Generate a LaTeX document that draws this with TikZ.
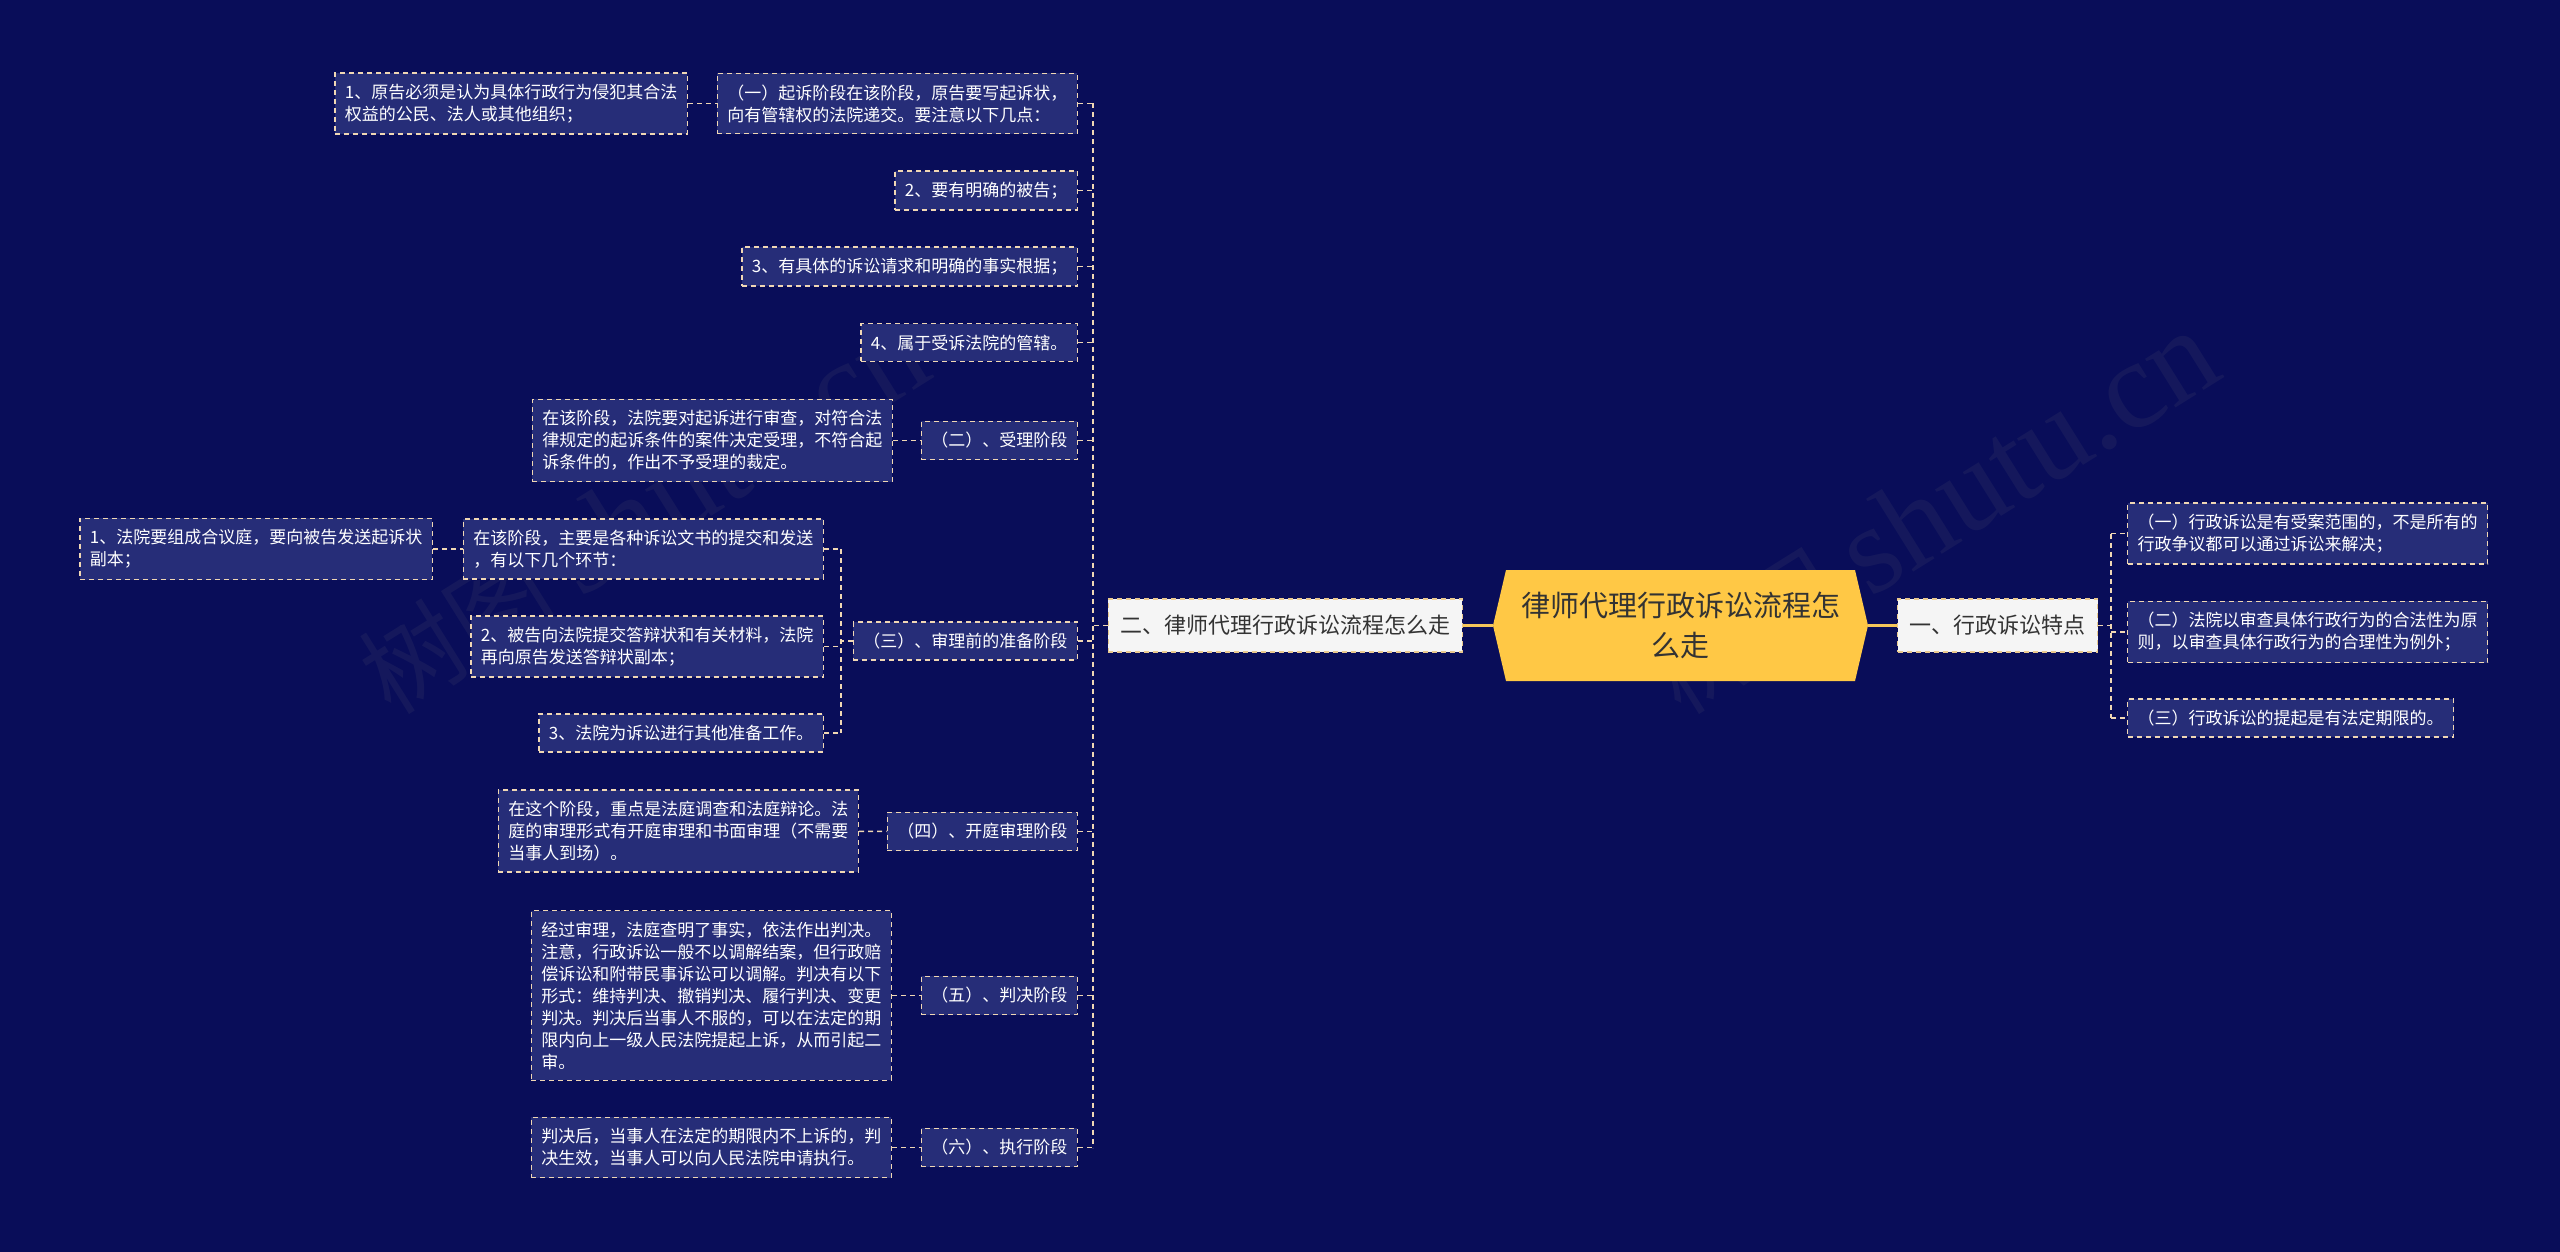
\documentclass[tikz,border=0pt]{standalone}
\usepackage{fontspec}
\newfontfamily\cjk{Noto Sans CJK SC}
\newfontfamily\wmserif{Liberation Serif}
\definecolor{navy}{HTML}{090D59}
\definecolor{boxfill}{HTML}{262D78}
\definecolor{dashcol}{HTML}{F0D7B4}
\definecolor{rootfill}{HTML}{FFC845}
\definecolor{rootline}{HTML}{F5C65A}
\definecolor{lvlfill}{HTML}{F5F5F5}
\definecolor{lvlline}{HTML}{E9C98F}
\definecolor{darktext}{HTML}{333333}
\begin{document}
\begin{tikzpicture}[x=1pt,y=-1pt,
  leafbox/.style={draw=dashcol,fill=boxfill,text=white,line width=1.3pt,dash pattern=on 5pt off 4pt,
    font=\cjk\fontsize{17}{22}\selectfont,align=left,inner xsep=10pt,inner ysep=11pt},
  topic/.style={draw=lvlline,fill=lvlfill,text=darktext,line width=1.3pt,dash pattern=on 5pt off 4pt,
    font=\cjk\fontsize{22}{28}\selectfont,inner xsep=12pt,minimum height=53pt},
  rootbox/.style={minimum width=375pt,minimum height=111pt,align=center,text=darktext,
    font=\cjk\fontsize{29}{40}\selectfont,
    path picture={\fill[rootfill] ([xshift=13pt]path picture bounding box.north west) -- (path picture bounding box.west)
      -- ([xshift=13pt]path picture bounding box.south west) -- ([xshift=-13pt]path picture bounding box.south east)
      -- (path picture bounding box.east) -- ([xshift=-13pt]path picture bounding box.north east) -- cycle;}},
  link/.style={draw=dashcol,line width=1.6pt,dash pattern=on 5pt off 4pt},
  rootlink/.style={draw=rootline,line width=3pt},
  wm/.style={text=gray,opacity=0.1,rotate=32}]
  \useasboundingbox (0,0) rectangle (2560,1252);
  \fill[navy] (0,0) rectangle (2560,1252);
  % watermark
  \node[wm] (wmL) at (643,513) {\cjk\fontsize{100}{100}\selectfont 树图 \wmserif\fontsize{125}{125}\selectfont shutu.cn};
  \node[wm] (wmR) at (1933,513) {\cjk\fontsize{100}{100}\selectfont 树图 \wmserif\fontsize{125}{125}\selectfont shutu.cn};
  % centre and first level
  \node[rootbox] (root) at (1680.5,625.5) {律师代理行政诉讼流程怎\\么走};
  \node[topic,anchor=east] (two) at (1463,625.5) {二、律师代理行政诉讼流程怎么走};
  \node[topic,anchor=west] (one) at (1897,625.5) {一、行政诉讼特点};
  \draw[rootlink] (two.east) -- (root.west);
  \draw[rootlink] (root.east) -- (one.west);
  % left branch
  \node[leafbox,anchor=east] (A1) at (1078,103.5) {（一）起诉阶段在该阶段，原告要写起诉状，\\向有管辖权的法院递交。要注意以下几点：};
  \node[leafbox,anchor=east] (A1c) at (688,103.5) {1、原告必须是认为具体行政行为侵犯其合法\\权益的公民、法人或其他组织；};
  \node[leafbox,anchor=east] (A2) at (1078,190.5) {2、要有明确的被告；};
  \node[leafbox,anchor=east] (A3) at (1078,266.5) {3、有具体的诉讼请求和明确的事实根据；};
  \node[leafbox,anchor=east] (A4) at (1078,342.5) {4、属于受诉法院的管辖。};
  \node[leafbox,anchor=east] (B) at (1078,440.5) {（二）、受理阶段};
  \node[leafbox,anchor=east] (Bc) at (893,440.5) {在该阶段，法院要对起诉进行审查，对符合法\\律规定的起诉条件的案件决定受理，不符合起\\诉条件的，作出不予受理的裁定。};
  \node[leafbox,anchor=east] (C) at (1078,641) {（三）、审理前的准备阶段};
  \node[leafbox,anchor=east] (C1) at (824,549) {在该阶段，主要是各种诉讼文书的提交和发送\\，有以下几个环节：};
  \node[leafbox,anchor=east] (C1c) at (433,549) {1、法院要组成合议庭，要向被告发送起诉状\\副本；};
  \node[leafbox,anchor=east] (C2) at (824,646.5) {2、被告向法院提交答辩状和有关材料，法院\\再向原告发送答辩状副本；};
  \node[leafbox,anchor=east] (C3) at (824,733) {3、法院为诉讼进行其他准备工作。};
  \node[leafbox,anchor=east] (D) at (1078,831.5) {（四）、开庭审理阶段};
  \node[leafbox,anchor=east] (Dc) at (859,831) {在这个阶段，重点是法庭调查和法庭辩论。法\\庭的审理形式有开庭审理和书面审理（不需要\\当事人到场）。};
  \node[leafbox,anchor=east] (E) at (1078,995.5) {（五）、判决阶段};
  \node[leafbox,anchor=east] (Ec) at (892,995.5) {经过审理，法庭查明了事实，依法作出判决。\\注意，行政诉讼一般不以调解结案，但行政赔\\偿诉讼和附带民事诉讼可以调解。判决有以下\\形式：维持判决、撤销判决、履行判决、变更\\判决。判决后当事人不服的，可以在法定的期\\限内向上一级人民法院提起上诉，从而引起二\\审。};
  \node[leafbox,anchor=east] (F) at (1078,1147.5) {（六）、执行阶段};
  \node[leafbox,anchor=east] (Fc) at (892,1147.5) {判决后，当事人在法定的期限内不上诉的，判\\决生效，当事人可以向人民法院申请执行。};
  \coordinate (busL) at (1093,625.5);
  \coordinate (busC) at (841,641);
  \draw[link] (two.west) -- (busL);
  \draw[link] (A1.east -| busL) -- (F.east -| busL);
  \foreach \n in {A1,A2,A3,A4,B,C,D,E,F} \draw[link] (\n.east) -- (\n.east -| busL);
  \draw[link] (C.west) -- (busC);
  \draw[link] (C1.east -| busC) -- (C3.east -| busC);
  \foreach \n in {C1,C2,C3} \draw[link] (\n.east) -- (\n.east -| busC);
  \draw[link] (A1c) -- (A1);
  \draw[link] (Bc) -- (B);
  \draw[link] (C1c) -- (C1);
  \draw[link] (Dc) -- (D);
  \draw[link] (Ec) -- (E);
  \draw[link] (Fc) -- (F);
  % right branch
  \node[leafbox,anchor=west] (R1) at (2127,533.5) {（一）行政诉讼是有受案范围的，不是所有的\\行政争议都可以通过诉讼来解决；};
  \node[leafbox,anchor=west] (R2) at (2127,632) {（二）法院以审查具体行政行为的合法性为原\\则，以审查具体行政行为的合理性为例外；};
  \node[leafbox,anchor=west] (R3) at (2127,718) {（三）行政诉讼的提起是有法定期限的。};
  \coordinate (busR) at (2111,625.5);
  \draw[link] (one.east) -- (busR);
  \draw[link] (R1.west -| busR) -- (R3.west -| busR);
  \foreach \n in {R1,R2,R3} \draw[link] (\n.west -| busR) -- (\n.west);
\end{tikzpicture}
\end{document}
